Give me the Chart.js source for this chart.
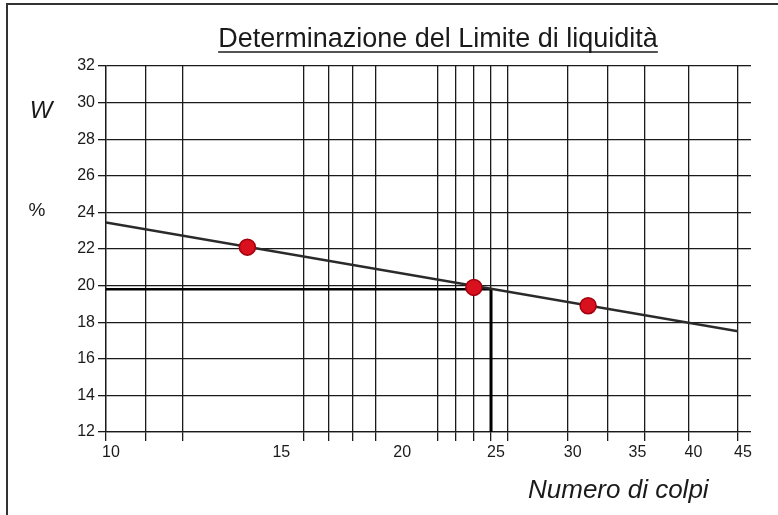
<!DOCTYPE html>
<html>
<head>
<meta charset="utf-8">
<script src="https://cdn.jsdelivr.net/npm/chart.js@4"></script>
<style>
  html, body { margin: 0; padding: 0; background: #fff; }
  #wrap { width: 778px; height: 515px; }
</style>
</head>
<body>
<div id="wrap"><canvas id="chart" width="778" height="515"></canvas></div>
<script>
// --- Data ---
const gridValues = [10, 11, 12, 16, 17, 18, 19, 22, 23, 24, 25, 26, 30, 33, 36, 40, 45];
const labelValues = [10, 15, 20, 25, 30, 35, 40, 45];
const yMin = 12, yMax = 32, yStep = 2;

const colpi = [14, 24, 31.5];
const umidita = [22.1, 19.9, 18.9];

const trendColpi = [10, 45];
const trendW = [23.45, 17.5];

const limiteColpi = 25;
const limiteW = 19.8;

const titleText = 'Determinazione del Limite di liquidità';
const xTitle = 'Numero di colpi';
const yTitleTop = 'W';
const yTitleBottom = '%';

const FONT = "'Liberation Sans', Arial, sans-serif";
const INK = '#1a1a1a';

// --- Datasets ---
const points = colpi.map((c, i) => ({ x: c, y: umidita[i] }));
const trend = trendColpi.map((c, i) => ({ x: c, y: trendW[i] }));
const readH = [{ x: gridValues[0], y: limiteW }, { x: limiteColpi, y: limiteW }];
const readV = [{ x: limiteColpi, y: limiteW }, { x: limiteColpi, y: yMin }];

// --- Text and frame drawn on top ---
const decor = {
  id: 'decor',
  afterDraw(chart) {
    const ctx = chart.ctx;
    ctx.save();

    // outer frame (right and bottom edges fall outside the picture)
    ctx.strokeStyle = '#333';
    ctx.lineWidth = 2;
    ctx.beginPath();
    ctx.moveTo(7, 520);
    ctx.lineTo(7, 4);
    ctx.lineTo(790, 4);
    ctx.stroke();

    ctx.fillStyle = INK;
    ctx.textBaseline = 'alphabetic';

    // title, underlined
    ctx.font = '27px ' + FONT;
    ctx.textAlign = 'center';
    const cx = 438;
    ctx.fillText(titleText, cx, 47);
    const w = ctx.measureText(titleText).width;
    ctx.strokeStyle = INK;
    ctx.lineWidth = 1.5;
    ctx.beginPath();
    ctx.moveTo(cx - w / 2, 52);
    ctx.lineTo(cx + w / 2, 52);
    ctx.stroke();

    // y titles
    ctx.font = 'italic 24px ' + FONT;
    ctx.fillText(yTitleTop, 41, 118);
    ctx.font = '19px ' + FONT;
    ctx.fillText(yTitleBottom, 37, 216);

    // x title
    ctx.font = 'italic 26px ' + FONT;
    ctx.textAlign = 'left';
    ctx.fillText(xTitle, 528, 498);

    ctx.restore();
  }
};

const ctx = document.getElementById('chart').getContext('2d');
new Chart(ctx, {
  type: 'scatter',
  data: {
    datasets: [
      {
        data: points,
        backgroundColor: '#d9101d',
        borderColor: '#a3000f',
        borderWidth: 1.5,
        pointRadius: 8,
        order: 0
      },
      {
        data: trend,
        showLine: true,
        borderColor: '#2a2a2a',
        borderWidth: 2.5,
        pointRadius: 0,
        order: 1
      },
      {
        data: readH,
        showLine: true,
        borderColor: '#000',
        borderWidth: 2.5,
        pointRadius: 0,
        order: 2
      },
      {
        data: readV,
        showLine: true,
        borderColor: '#000',
        borderWidth: 3,
        pointRadius: 0,
        clip: false,
        order: 2
      }
    ]
  },
  options: {
    responsive: false,
    animation: false,
    devicePixelRatio: 1,
    layout: { padding: { top: 66, left: 0, right: 0, bottom: 0 } },
    plugins: {
      legend: { display: false },
      tooltip: { enabled: false },
      title: { display: false }
    },
    scales: {
      x: {
        type: 'logarithmic',
        position: 'bottom',
        min: 10,
        max: 45,
        afterBuildTicks: (scale) => {
          const all = [...new Set([...gridValues, ...labelValues])].sort((a, b) => a - b);
          scale.ticks = all.map(v => ({ value: v }));
        },
        afterFit: (scale) => { scale.height = 83; },
        grid: {
          color: (c) => (c.tick && gridValues.includes(c.tick.value)) ? INK : 'rgba(0,0,0,0)',
          lineWidth: 1.3,
          tickLength: 9
        },
        border: { color: INK, width: 1.3 },
        ticks: {
          autoSkip: false,
          maxRotation: 0,
          minRotation: 0,
          padding: 2,
          labelOffset: 5,
          color: INK,
          font: { family: FONT, size: 16 },
          callback: (v) => labelValues.includes(v) ? String(v) : ''
        }
      },
      y: {
        type: 'linear',
        position: 'left',
        min: yMin,
        max: yMax,
        afterFit: (scale) => { scale.width = 106; },
        grid: { color: INK, lineWidth: 1.3, tickLength: 8 },
        border: { color: INK, width: 1.3 },
        ticks: {
          stepSize: yStep,
          padding: 3,
          color: INK,
          font: { family: FONT, size: 16 }
        }
      },
      yRight: {
        type: 'linear',
        position: 'right',
        min: yMin,
        max: yMax,
        afterFit: (scale) => { scale.width = 40; },
        grid: { drawOnChartArea: false, color: INK, lineWidth: 1.3, tickLength: 13 },
        border: { display: false },
        ticks: { stepSize: yStep, display: false }
      }
    }
  },
  plugins: [decor]
});
</script>
</body>
</html>
